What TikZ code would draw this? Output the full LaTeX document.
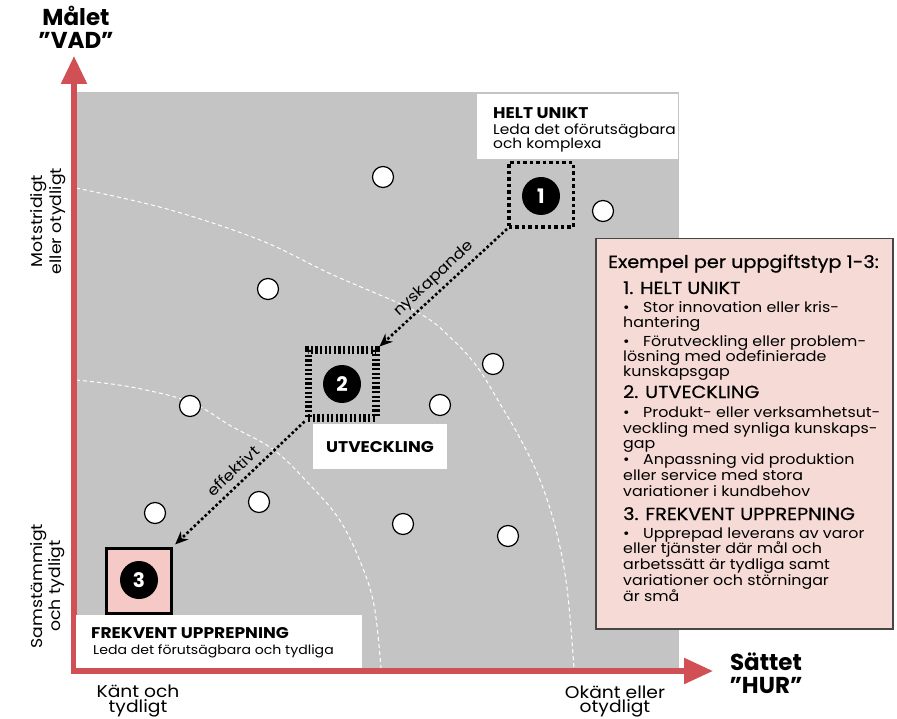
\documentclass[tikz,border=0pt]{standalone}
\usepackage{fontspec}
\setmainfont{Poppins}
\newfontfamily\widefont{Poppins}[FakeStretch=1.1]
\newfontfamily\medfont{Poppins}[FakeStretch=1.1, FakeBold=0.6]
\newfontfamily\widebold{Poppins Bold}[FakeStretch=1.1]
\usetikzlibrary{arrows.meta}

\definecolor{axisred}{RGB}{208,80,86}
\definecolor{panelgray}{RGB}{196,196,196}
\definecolor{boxpink}{RGB}{245,201,198}
\definecolor{notepink}{RGB}{245,218,214}
\definecolor{noteedge}{RGB}{70,70,70}

\newcommand{\fsz}[1]{\fontsize{#1}{#1}\selectfont}

\tikzset{
  axisline/.style={draw=axisred, line width=5.5pt, line join=miter,
    {Triangle[length=28pt,width=25pt]}-{Triangle[length=29pt,width=25pt]}},
  zoneline/.style={draw=white, line width=1pt, dash pattern=on 4pt off 3pt},
  dot/.style={circle, draw=black, line width=1.2pt, fill=white,
    minimum size=21pt, inner sep=0pt},
  disc/.style={circle, fill=black, minimum size=38pt, inner sep=0pt,
    text=white, font=\fsz{20}\bfseries},
  tasksolid/.style={draw=black, line width=3pt, fill=boxpink,
    minimum size=65pt, inner sep=0pt},
  taskdotted/.style={draw=black, line width=3.5pt, dash pattern=on 3.5pt off 3pt,
    minimum size=64.5pt, inner sep=0pt},
  taskdashed/.style={draw=black, line width=7.5pt, dash pattern=on 2.2pt off 2.4pt,
    minimum size=67.5pt, inner sep=0pt},
  flow/.style={draw=black, line width=2.6pt, dash pattern=on 2.6pt off 2.4pt,
    -{Stealth[length=13pt,width=11pt]}},
  flowlabel/.style={inner sep=0pt, font=\widefont\fsz{15}},
  labelbox/.style={fill=white, inner sep=0pt, anchor=north west},
  txt/.style={inner sep=0pt, anchor=base west},
  boxtitle/.style={txt, font=\widebold\fsz{15.5}},
  boxsub/.style={txt, font=\widefont\fsz{12.8}},
  axtitle/.style={inner sep=0pt, anchor=base, font=\fsz{23}\bfseries},
  axnote/.style={inner sep=0pt, anchor=base, font=\widefont\fsz{17}},
  sidenote/.style={inner sep=0pt, anchor=base, rotate=90, font=\widefont\fsz{15.7}},
  bodytxt/.style={txt, font=\widefont\fsz{14.4}},
  headtxt/.style={txt, font=\medfont\fsz{17.5}},
}

\begin{document}
\begin{tikzpicture}[x=1pt,y=-1pt]
\useasboundingbox (0,0) rectangle (897,719);

% grey field
\fill[panelgray] (74,92) rectangle (679,671);

% zone boundaries
\draw[zoneline] plot[smooth, tension=0.6] coordinates {(76,188) (167,209) (260,240) (331,274)
  (417,312) (453,340) (478,368) (499,402) (521,440) (540,480) (556,530) (567,588) (574,668)};
\draw[zoneline] plot[smooth, tension=0.6] coordinates {(76,380) (131,387) (190,402) (231,426)
  (274,450) (310,485) (339,519) (360,561) (374,605) (381,668)};

% axes
\coordinate (ytip) at (74,56);
\coordinate (origin) at (74,671);
\coordinate (xtip) at (713,671);
\draw[axisline] (ytip) -- (origin) -- (xtip);

% axis titles
\node[axtitle] (ytitleA) at (76,26) {Målet};
\node[axtitle] (ytitleB) at (76,49) {”VAD”};
\node[axtitle] (xtitleA) at (766,670) {Sättet};
\node[axtitle] (xtitleB) at (766,693) {”HUR”};

\node[axnote] (xlowA) at (138,697) {Känt och};
\node[axnote] (xlowB) at (138,712) {tydligt};
\node[axnote] (xhighA) at (615,698) {Okänt eller};
\node[axnote] (xhighB) at (615,712) {otydligt};

\node[sidenote] (yhighA) at (42,221) {Motstridigt};
\node[sidenote] (yhighB) at (61,221) {eller otydligt};
\node[sidenote] (ylowA) at (42,586) {Samstämmigt};
\node[sidenote] (ylowB) at (60,586) {och tydligt};

% scattered tasks
\node[dot] (d1) at (383,177) {};
\node[dot] (d2) at (603,211) {};
\node[dot] (d3) at (268,289) {};
\node[dot] (d4) at (493,364) {};
\node[dot] (d5) at (440,405) {};
\node[dot] (d6) at (190,406) {};
\node[dot] (d7) at (259,502) {};
\node[dot] (d8) at (155,513) {};
\node[dot] (d9) at (403,524) {};
\node[dot] (d10) at (508,536) {};

% task type 1
\node[labelbox, minimum width=201pt, minimum height=65pt] (uniquebox) at (477,94) {};
\node[boxtitle] (uniquetitle) at (493,119) {HELT UNIKT};
\node[boxsub, font=\widefont\fsz{14}] (uniqueA) at (493,135) {Leda det oförutsägbara};
\node[boxsub, font=\widefont\fsz{14}] (uniqueB) at (493,149) {och komplexa};
\node[taskdotted] (t1) at (541,195) {};
\node[disc] (n1) at (541,196) {1};

% task type 2
\node[taskdashed] (t2) at (342,384) {};
\node[disc] (n2) at (342,384) {2};
\node[labelbox, minimum width=134pt, minimum height=45pt] (devbox) at (313,424) {};
\node[inner sep=0pt, font=\widebold\fsz{15.5}] (devtitle) at (380,447) {UTVECKLING};

% task type 3
\node[tasksolid] (t3) at (139,580.5) {};
\node[disc] (n3) at (139,580) {3};
\node[labelbox, minimum width=286pt, minimum height=53pt] (freqbox) at (76,615) {};
\node[boxtitle] (freqtitle) at (91,638) {FREKVENT UPPREPNING};
\node[boxsub] (freqA) at (93,654) {Leda det förutsägbara och tydliga};

% transitions
\draw[flow] (t1.south west) -- (t2.north east);
\draw[flow, shorten >=3pt] (t2.south west) -- (t3.north east);
\node[flowlabel, rotate=43.4] (lblnew) at (434,279) {nyskapande};
\node[flowlabel, rotate=43.4] (lbleff) at (233,471) {effektivt};

% examples
\node[draw=noteedge, line width=1.5pt, fill=notepink, minimum width=297pt,
  minimum height=390pt, inner sep=0pt, anchor=north west] (examples) at (595,238) {};
\node[headtxt] (ex0) at (608,268) {Exempel per uppgiftstyp 1-3:};
\node[headtxt] (ex1) at (623,294) {1. HELT UNIKT};
\node[bodytxt] (ex2) at (623,313) {\makebox[20pt][l]{\textbullet}Stor innovation eller kris-};
\node[bodytxt] (ex3) at (623,328) {hantering};
\node[bodytxt] (ex4) at (623,347) {\makebox[20pt][l]{\textbullet}Förutveckling eller problem-};
\node[bodytxt] (ex5) at (623,362) {lösning med odefinierade};
\node[bodytxt] (ex6) at (623,377) {kunskapsgap};
\node[headtxt] (ex7) at (623,398) {2. UTVECKLING};
\node[bodytxt] (ex8) at (623,417) {\makebox[20pt][l]{\textbullet}Produkt- eller verksamhetsut-};
\node[bodytxt] (ex9) at (623,433) {veckling med synliga kunskaps-};
\node[bodytxt] (ex10) at (623,448) {gap};
\node[bodytxt] (ex11) at (623,464) {\makebox[20pt][l]{\textbullet}Anpassning vid produktion};
\node[bodytxt] (ex12) at (623,480) {eller service med stora};
\node[bodytxt] (ex13) at (623,496) {variationer i kundbehov};
\node[headtxt] (ex14) at (623,520) {3. FREKVENT UPPREPNING};
\node[bodytxt] (ex15) at (623,538) {\makebox[20pt][l]{\textbullet}Upprepad leverans av varor};
\node[bodytxt] (ex16) at (623,553) {eller tjänster där mål och};
\node[bodytxt] (ex17) at (623,569) {arbetssätt är tydliga samt};
\node[bodytxt] (ex18) at (623,585) {variationer och störningar};
\node[bodytxt] (ex19) at (623,601) {är små};
\end{tikzpicture}
\end{document}
